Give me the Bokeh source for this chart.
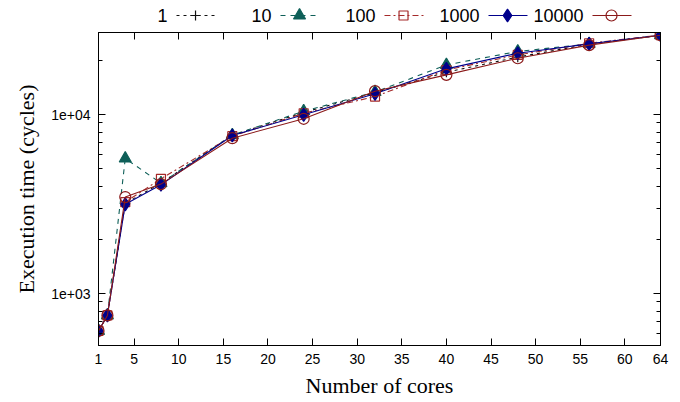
from bokeh.plotting import figure
from bokeh.layouts import column
from bokeh.models import (LinearAxis, LogAxis, FixedTicker, FactorRange,
                          ColumnDataSource, CustomJSTickFormatter)
from bokeh.core.properties import value
from bokeh.transform import dodge
from bokeh.embed import file_html
from bokeh.resources import INLINE

# ---------------- data ----------------
cores = [1, 2, 4, 8, 16, 24, 32, 40, 48, 56, 64]
series_names = ["1", "10", "100", "1000", "10000"]
t_1 = [620, 757, 3200, 4150, 7700, 10300, 13300, 17300, 21000, 24800, 27800]
t_10 = [620, 757, 5700, 4150, 7700, 10470, 13400, 19000, 22600, 24900, 27850]
t_100 = [620, 757, 3250, 4390, 7600, 10200, 12650, 17800, 21600, 25100, 27900]
t_1000 = [620, 757, 3160, 4065, 7660, 10000, 13100, 18060, 22080, 24900, 27850]
t_10000 = [620, 757, 3470, 4100, 7400, 9500, 13550, 16720, 20700, 24500, 27850]
x_ticks = [1, 5, 10, 15, 20, 25, 30, 35, 40, 45, 50, 55, 60, 64]
y_ticks = [1000, 10000]
y_minor = [600, 700, 800, 900, 2000, 3000, 4000, 5000, 6000, 7000, 8000, 9000, 20000]

# ---------------- main figure ----------------
p = figure(width=680, height=370, y_axis_type="log",
           x_range=(1, 64), y_range=(514, 28830),
           output_backend="svg", toolbar_location=None,
           min_border_left=98, min_border_right=20,
           min_border_top=0, min_border_bottom=57)
p.xgrid.visible = False
p.ygrid.visible = False
p.outline_line_color = "black"
p.outline_line_width = 1
p.background_fill_color = "white"
p.border_fill_color = "white"

xt = FixedTicker(ticks=x_ticks)
yt = FixedTicker(ticks=y_ticks, minor_ticks=y_minor)
yfmt = CustomJSTickFormatter(code="""
const e = Math.round(Math.log10(tick));
return "1e+" + (e < 10 ? "0" : "") + e;
""")
blank = CustomJSTickFormatter(code="return '';")

def style_axis(ax):
    ax.axis_line_color = "black"
    ax.major_tick_line_color = "black"
    ax.minor_tick_line_color = "black"
    ax.major_tick_in = 7
    ax.major_tick_out = 0
    ax.minor_tick_in = 4
    ax.minor_tick_out = 0
    ax.major_label_text_font = "Liberation Sans"
    ax.major_label_text_font_size = "14px"
    ax.major_label_text_color = "black"
    ax.axis_label_text_font = "Liberation Serif"
    ax.axis_label_text_font_style = "normal"
    ax.axis_label_text_font_size = "22px"
    ax.axis_label_text_color = "black"

xa = p.xaxis[0]
xa.ticker = xt
style_axis(xa)
xa.major_label_standoff = 8
xa.axis_label = "Number of cores"
xa.axis_label_standoff = 6

ya = p.yaxis[0]
ya.ticker = yt
ya.formatter = yfmt
style_axis(ya)
ya.major_label_standoff = 8
ya.axis_label = "Execution time (cycles)"
ya.axis_label_standoff = 9

top = LinearAxis(ticker=xt, formatter=blank)
style_axis(top)
top.major_label_standoff = 0
p.add_layout(top, "above")
right = LogAxis(ticker=FixedTicker(ticks=y_ticks, minor_ticks=y_minor), formatter=blank)
style_axis(right)
right.major_label_standoff = 0
p.add_layout(right, "right")

# ---------------- series ----------------
styles = [
    dict(ys=t_1, color="#111111", dash="3 4", marker="cross", size=10, fill=None),
    dict(ys=t_10, color="#0e5f58", dash="5 5", marker="triangle", size=12, fill="#0e5f58"),
    dict(ys=t_100, color="#a52a2a", dash="6 3 2 3", marker="square", size=9, fill=None),
    dict(ys=t_1000, color="#00008b", dash="solid", marker="diamond", size=13, fill="#00008b"),
    dict(ys=t_10000, color="#8b1a1a", dash="solid", marker="circle", size=11, fill=None),
]

def marker_kw(s):
    kw = dict(marker=s["marker"], size=s["size"], line_color=s["color"], line_width=1.2)
    if s["fill"] is None:
        kw["fill_alpha"] = 0
    else:
        kw["fill_color"] = s["fill"]
    return kw

for s in styles:
    p.line(cores, s["ys"], line_color=s["color"], line_width=1.1, line_dash=s["dash"])
    p.scatter(cores, s["ys"], **marker_kw(s))

# ---------------- legend strip (above the frame, label then key) ----------------
lg = figure(width=680, height=32,
            x_range=FactorRange(factors=series_names, range_padding=0.202,
                                range_padding_units="absolute", factor_padding=0),
            y_range=(0, 32),
            output_backend="svg", toolbar_location=None,
            x_axis_location=None, y_axis_location=None,
            min_border_left=0, min_border_right=0,
            min_border_top=0, min_border_bottom=0)
lg.xgrid.visible = False
lg.ygrid.visible = False
lg.outline_line_color = None
lg.background_fill_color = "white"
lg.border_fill_color = "white"

LEG_Y = 17
for name, s in zip(series_names, styles):
    src = ColumnDataSource(dict(name=[name], y=[LEG_Y]))
    lg.text(x=dodge("name", -0.038, range=lg.x_range), y="y", text="name", source=src,
            text_align="right", text_baseline="middle",
            text_font=value("Liberation Sans"), text_font_size="18px",
            text_font_style="normal", text_color="black")
    lg.segment(x0=dodge("name", 0.048, range=lg.x_range), y0="y",
               x1=dodge("name", 0.423, range=lg.x_range), y1="y", source=src,
               line_color=s["color"], line_width=1.1, line_dash=s["dash"])
    lg.scatter(x=dodge("name", 0.231, range=lg.x_range), y="y", source=src,
               **marker_kw(s))

layout = column(lg, p, spacing=0)
open("out.html", "w").write(file_html(layout, INLINE))
